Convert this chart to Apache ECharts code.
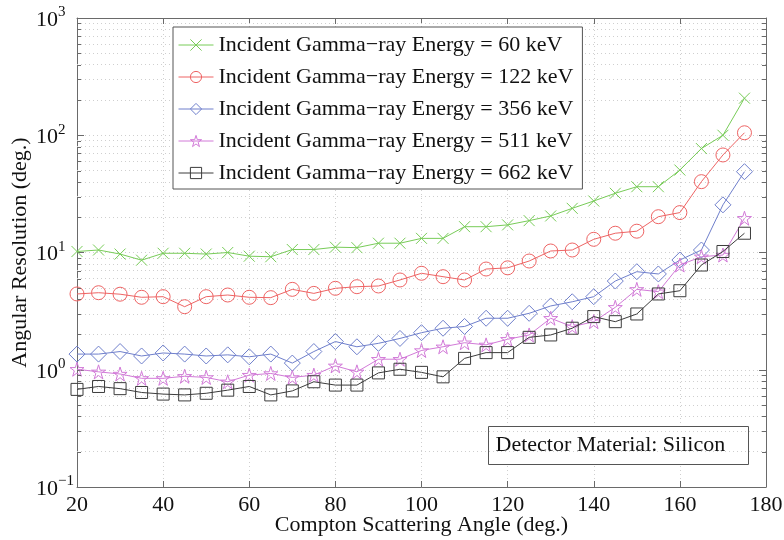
<!DOCTYPE html>
<html>
<head>
<meta charset="utf-8">
<script src="https://cdn.jsdelivr.net/npm/echarts@6/dist/echarts.min.js"></script>
<style>
  html, body { margin: 0; padding: 0; background: #fff; }
  #chart { width: 784px; height: 540px; }
</style>
</head>
<body>
<div id="chart"></div>
<script>
// Compton scattering angle (deg.)
const angles = [20, 25, 30, 35, 40, 45, 50, 55, 60, 65, 70, 75, 80, 85, 90, 95, 100,
                105, 110, 115, 120, 125, 130, 135, 140, 145, 150, 155, 160, 165, 170, 175];

// Angular resolution (deg.) for each incident gamma-ray energy
const res60 = [10.2, 10.5, 9.7, 8.6, 9.85, 9.85, 9.7, 10.0, 9.3, 9.2, 10.6, 10.6, 11.1, 11.0, 12.0, 12.0, 13.2,
               13.2, 16.6, 16.6, 17.2, 18.7, 20.5, 23.8, 27.5, 32, 36.4, 36.4, 50.5, 77, 100, 207];
const res122 = [4.43, 4.54, 4.41, 4.15, 4.2, 3.45, 4.2, 4.34, 4.15, 4.12, 4.85, 4.48, 4.95, 5.11, 5.18, 5.83, 6.65,
                6.22, 5.83, 7.23, 7.4, 8.46, 10.3, 10.5, 12.96, 14.6, 15.2, 20.2, 21.9, 40.2, 67.9, 105];
const res356 = [1.36, 1.36, 1.43, 1.31, 1.39, 1.36, 1.31, 1.34, 1.29, 1.36, 1.14, 1.43, 1.74, 1.57, 1.68, 1.85, 2.07,
                2.26, 2.34, 2.75, 2.75, 3.03, 3.5, 3.8, 4.2, 5.71, 6.86, 6.56, 8.63, 10.5, 25.5, 48.9];
const res511 = [1.01, 0.96, 0.92, 0.845, 0.845, 0.88, 0.86, 0.79, 0.90, 0.93, 0.86, 0.90, 1.08, 0.96, 1.23, 1.23, 1.46,
                1.57, 1.70, 1.63, 1.82, 1.98, 2.75, 2.33, 2.57, 3.41, 4.85, 4.63, 7.82, 9.2, 9.52, 19.6];
const res662 = [0.68, 0.72, 0.69, 0.64, 0.62, 0.61, 0.63, 0.67, 0.72, 0.61, 0.66, 0.79, 0.74, 0.74, 0.94, 1.01, 0.95,
                0.87, 1.25, 1.40, 1.40, 1.89, 1.98, 2.26, 2.84, 2.57, 2.99, 4.43, 4.72, 7.82, 10.2, 14.6];

const seriesNames = [
  'Incident Gamma\u2212ray Energy = 60 keV',
  'Incident Gamma\u2212ray Energy = 122 keV',
  'Incident Gamma\u2212ray Energy = 356 keV',
  'Incident Gamma\u2212ray Energy = 511 keV',
  'Incident Gamma\u2212ray Energy = 662 keV'
];

// Axis ranges and ticks
const xTicks = [20, 40, 60, 80, 100, 120, 140, 160, 180];
const yDecades = [0.1, 1, 10, 100, 1000];
const yMinorMultipliers = [2, 3, 4, 5, 6, 7, 8, 9];

const SERIF = '"Liberation Serif", "DejaVu Serif", serif';
const AXIS_GRAY = '#6a6a6a';
const GRID_GRAY = '#cfcfcf';
const TEXT = '#111';

const colors = ['#78cc58', '#ee6464', '#6f7fcc', '#d27ad8', '#3c3c3c'];
const symbols = [
  'path://M0,0L10,10M10,0L0,10',
  'circle',
  'diamond',
  'path://M50,0L61.2,34.5L97.6,34.5L68.2,55.9L79.4,90.5L50,69.1L20.6,90.5L31.8,55.9L2.4,34.5L38.8,34.5Z',
  'rect'
];
const symbolSizes = [11, 14, 16, 14, 12];
const dataSets = [res60, res122, res356, res511, res662];
const HOLLOW = 'rgba(0,0,0,0)';

// Minor log gridline values (2..9 within each decade)
const minorValues = [];
for (let i = 0; i < yDecades.length - 1; i++) {
  yMinorMultipliers.forEach(m => minorValues.push(+(m * yDecades[i]).toPrecision(3)));
}

const chart = echarts.init(document.getElementById('chart'), null, { renderer: 'canvas' });

const series = dataSets.map((vals, i) => ({
  name: seriesNames[i],
  type: 'line',
  data: angles.map((a, j) => [a, vals[j]]),
  symbol: symbols[i],
  symbolSize: symbolSizes[i],
  showAllSymbol: true,
  z: 3 + i,
  lineStyle: { color: colors[i], width: 1 },
  itemStyle: { color: HOLLOW, borderColor: colors[i], borderWidth: 1 },
  emphasis: { disabled: true },
  animation: false
}));

// Dotted minor gridlines drawn behind the curves
series.push({
  name: 'minorGrid',
  type: 'line',
  data: [],
  z: 1,
  silent: true,
  markLine: {
    z: 1,
    silent: true,
    symbol: 'none',
    animation: false,
    label: { show: false },
    lineStyle: { color: GRID_GRAY, type: [1, 3], width: 1 },
    data: minorValues.map(v => ({ yAxis: v }))
  }
});

const option = {
  animation: false,
  backgroundColor: '#fff',
  grid: { left: 77, right: 18, top: 18, bottom: 53, show: false, outerBoundsMode: 'none', containLabel: false },
  legend: {
    z: 20,
    data: seriesNames.map((n, i) => ({
      name: n,
      itemStyle: { color: HOLLOW, borderColor: colors[i], borderWidth: 1 },
      lineStyle: { color: colors[i], width: 1 }
    })),
    orient: 'vertical',
    left: 173,
    top: 27,
    padding: [7, 9, 5, 5],
    itemGap: 10,
    itemWidth: 35,
    itemHeight: 14,
    backgroundColor: '#fff',
    borderColor: '#555',
    borderWidth: 1,
    selectedMode: false,
    textStyle: { fontFamily: SERIF, fontSize: 22, color: TEXT, lineHeight: 22 }
  },
  xAxis: [{
    type: 'value',
    min: 20,
    max: 180,
    interval: 20,
    name: 'Compton Scattering Angle (deg.)',
    nameLocation: 'middle',
    nameGap: 27,
    nameMoveOverlap: false,
    nameTextStyle: { fontFamily: SERIF, fontSize: 22, color: TEXT },
    axisLine: { show: true, lineStyle: { color: AXIS_GRAY, width: 1 } },
    axisTick: { show: true, inside: true, length: 6, lineStyle: { color: AXIS_GRAY } },
    axisLabel: { fontFamily: SERIF, fontSize: 22, color: TEXT, margin: 7,
                 formatter: v => xTicks.includes(v) ? String(v) : '' },
    splitLine: { show: true, lineStyle: { color: GRID_GRAY, type: [1, 3] } }
  }, {
    type: 'value',
    position: 'top',
    min: 20,
    max: 180,
    interval: 20,
    axisLine: { show: true, lineStyle: { color: AXIS_GRAY, width: 1 } },
    axisTick: { show: true, inside: true, length: 6, lineStyle: { color: AXIS_GRAY } },
    axisLabel: { show: false },
    splitLine: { show: false }
  }],
  yAxis: [{
    type: 'log',
    logBase: 10,
    min: 0.1,
    max: 1000,
    name: 'Angular Resolution (deg.)',
    nameLocation: 'middle',
    nameGap: 46,
    nameMoveOverlap: false,
    nameRotate: 90,
    nameTextStyle: { fontFamily: SERIF, fontSize: 22, color: TEXT },
    axisLine: { show: true, lineStyle: { color: AXIS_GRAY, width: 1 } },
    axisTick: { show: true, inside: true, length: 7, lineStyle: { color: AXIS_GRAY } },
    axisLabel: {
      margin: 41,
      align: 'left',
      formatter: v => '{b|10}{s|' + String(Math.round(Math.log10(v))).replace('-', '\u2212') + '}',
      rich: {
        b: { fontFamily: SERIF, fontSize: 22, color: TEXT, lineHeight: 26, verticalAlign: 'bottom' },
        s: { fontFamily: SERIF, fontSize: 15, color: TEXT, lineHeight: 26, verticalAlign: 'top' }
      }
    },
    splitLine: { show: true, lineStyle: { color: GRID_GRAY, type: [1, 3] } }
  }, {
    type: 'log',
    logBase: 10,
    min: 0.1,
    max: 1000,
    position: 'right',
    axisLine: { show: true, lineStyle: { color: AXIS_GRAY, width: 1 } },
    axisTick: { show: true, inside: true, length: 7, lineStyle: { color: AXIS_GRAY } },
    axisLabel: { show: false },
    splitLine: { show: false }
  }],
  series: series
};

chart.setOption(option);

// Minor tick marks on the left and right frame, and the detector annotation box
function addOverlay() {
  const xl = chart.convertToPixel({ xAxisIndex: 0 }, 20);
  const xr = chart.convertToPixel({ xAxisIndex: 0 }, 180);
  const elements = [];
  minorValues.forEach(v => {
    const y = Math.round(chart.convertToPixel({ yAxisIndex: 0 }, v)) + 0.5;
    elements.push({ type: 'line', silent: true, z: 10,
      shape: { x1: xl, y1: y, x2: xl + 4, y2: y }, style: { stroke: AXIS_GRAY, lineWidth: 1 } });
    elements.push({ type: 'line', silent: true, z: 10,
      shape: { x1: xr - 4, y1: y, x2: xr, y2: y }, style: { stroke: AXIS_GRAY, lineWidth: 1 } });
  });
  elements.push({
    type: 'group', left: 488, top: 426, z: 20,
    children: [
      { type: 'rect', shape: { x: 0, y: 0, width: 260, height: 38 },
        style: { fill: '#fff', stroke: '#555', lineWidth: 1 } },
      { type: 'text', x: 7, y: 19,
        style: { text: 'Detector Material: Silicon', font: '22px ' + SERIF, fill: TEXT,
                 textVerticalAlign: 'middle', verticalAlign: 'middle' } }
    ]
  });
  chart.setOption({ graphic: { elements: elements } });
}
addOverlay();
</script>
</body>
</html>
